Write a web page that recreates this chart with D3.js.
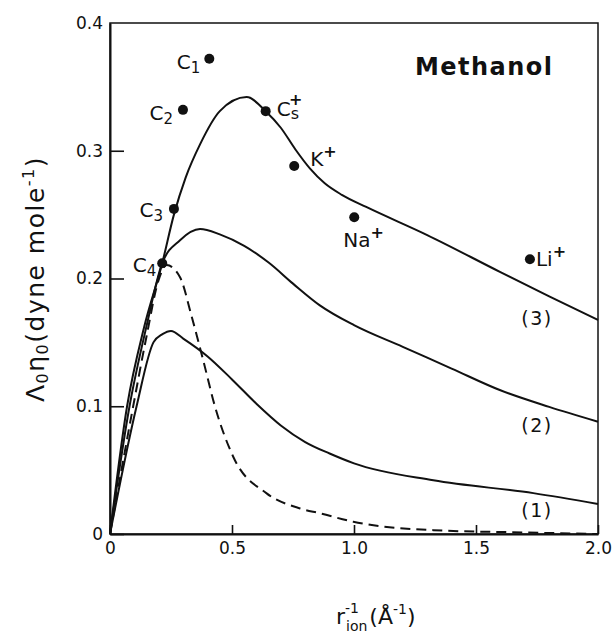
<!DOCTYPE html>
<html>
<head>
<meta charset="utf-8">
<script src="https://cdn.jsdelivr.net/npm/d3@7"></script>
<style>
  body { margin: 0; background: #fff; }
  svg { font-family: "DejaVu Sans", sans-serif; }
</style>
</head>
<body>
<svg id="fig" width="612" height="637"></svg>
<script>
// curves, [r^-1, value]
const curve3 = [[0,0],[0.07,0.1],[0.14,0.162],[0.214,0.212],[0.262,0.25],[0.31,0.279],[0.369,0.305],[0.45,0.331],[0.56,0.342],[0.638,0.331],[0.70,0.318],[0.76,0.301],[0.82,0.286],[0.88,0.2745],[0.95,0.2655],[1.05,0.256],[1.3,0.234],[1.6,0.205],[1.8,0.186],[2.0,0.1675]];
const curve2 = [[0,0],[0.08,0.1],[0.15,0.163],[0.214,0.212],[0.287,0.23],[0.369,0.2387],[0.45,0.2345],[0.55,0.2255],[0.65,0.2125],[0.75,0.196],[0.86,0.179],[1.0,0.1635],[1.2,0.1465],[1.4,0.1295],[1.6,0.1125],[1.8,0.0995],[2.0,0.0879]];
const curve1 = [[0,0],[0.109,0.1],[0.178,0.15],[0.215,0.1565],[0.25,0.159],[0.30,0.153],[0.40,0.139],[0.50,0.121],[0.60,0.102],[0.70,0.085],[0.80,0.072],[0.90,0.063],[1.0,0.0553],[1.325,0.042],[1.735,0.032],[2.0,0.0235]];
const dashed = [[0,0],[0.095,0.1],[0.15,0.155],[0.198,0.198],[0.232,0.2105],[0.287,0.201],[0.335,0.17],[0.382,0.136],[0.43,0.1],[0.505,0.0605],[0.642,0.0318],[0.779,0.02],[0.861,0.0162],[0.997,0.0096],[1.325,0.003],[1.7,0.0012],[2.0,0]];

const ionNames = ["C1","C2","C3","C4","Cs+","K+","Na+","Li+"];
const ionX = [0.407,0.299,0.262,0.214,0.638,0.755,1.001,1.721];
const ionY = [0.372,0.332,0.2545,0.212,0.331,0.288,0.248,0.215];

const curveNames = ["(3)","(2)","(1)"];
const xTicks = [0,0.5,1.0,1.5,2.0];
const yTicks = [0,0.1,0.2,0.3,0.4];

const svg = d3.select("#fig");
const margin = {left:110, top:23, right:14, bottom:103};
const W = 612 - margin.left - margin.right;
const H = 637 - margin.top - margin.bottom;

const x = d3.scaleLinear().domain([0,2]).range([0,W]);
const y = d3.scaleLinear().domain([0,0.4]).range([H,0]);

const g = svg.append("g").attr("transform", `translate(${margin.left},${margin.top})`);

// frame (top + right)
g.append("rect")
  .attr("x", x(0)).attr("y", y(0.4))
  .attr("width", x(2)-x(0)).attr("height", y(0)-y(0.4))
  .attr("fill","none").attr("stroke","#111").attr("stroke-width",1.5);

// axes, ticks point inward
const yAxis = d3.axisLeft(y).tickValues(yTicks).tickSizeInner(-14).tickSizeOuter(0).tickPadding(7)
  .tickFormat(d => d === 0 ? "0" : d3.format(".1f")(d));
const xAxis = d3.axisBottom(x).tickValues(xTicks).tickSizeInner(-9).tickSizeOuter(0).tickPadding(8)
  .tickFormat(d => d === 0 ? "0" : d3.format(".1f")(d));

const ya = g.append("g").call(yAxis);
const xa = g.append("g").attr("transform",`translate(0,${H})`).call(xAxis);
[ya, xa].forEach(a => {
  a.select(".domain").attr("stroke","#111").attr("stroke-width",2);
  a.selectAll(".tick line").attr("stroke","#111").attr("stroke-width",1.6);
  a.selectAll("text").attr("font-size",17).attr("fill","#111").attr("font-family","DejaVu Sans");
});
ya.selectAll(".tick").filter(d => d === 0.4).select("line").remove();

// curves
const line = d3.line().x(d => x(d[0])).y(d => y(d[1])).curve(d3.curveMonotoneX);
[curve3, curve2, curve1].forEach(c => {
  g.append("path").datum(c).attr("d", line)
    .attr("fill","none").attr("stroke","#111").attr("stroke-width",2);
});
g.append("path").datum(dashed).attr("d", line)
  .attr("fill","none").attr("stroke","#111").attr("stroke-width",2)
  .attr("stroke-dasharray","10,6");

// data points
g.selectAll("circle.ion").data(ionNames).join("circle")
  .attr("class","ion")
  .attr("cx",(d,i) => x(ionX[i])).attr("cy",(d,i) => y(ionY[i]))
  .attr("r",5).attr("fill","#111");

// labels: [dx, dy, anchor] relative to the dot
const labelOff = {
  "C1":[-9,10,"end"], "C2":[-10,10,"end"], "C3":[-11,8,"end"], "C4":[-6,9,"end"],
  "Cs+":[11,5,"start"], "K+":[16,0,"start"], "Na+":[-11,30,"start"], "Li+":[6,7,"start"]
};
ionNames.forEach((name,i) => {
  const [dx,dy,anchor] = labelOff[name];
  const t = g.append("text")
    .attr("x", x(ionX[i])+dx).attr("y", y(ionY[i])+dy)
    .attr("text-anchor", anchor).attr("font-size",20).attr("fill","#111");
  if (name[0] === "C" && name !== "Cs+") {
    t.append("tspan").text("C");
    t.append("tspan").text(name.slice(1)).attr("font-size",15).attr("dy",4);
  } else if (name === "Cs+") {
    t.append("tspan").text("C");
    t.append("tspan").text("s").attr("font-size",16).attr("dy",3);
    t.append("tspan").text("+").attr("font-size",16).attr("dx",-10).attr("dy",-14).attr("font-weight","bold");
  } else {
    t.append("tspan").text(name.slice(0,-1));
    t.append("tspan").text("+").attr("font-size",16).attr("dy",-9).attr("font-weight","bold");
  }
});

// curve numbers
const curveLabelY = [0.169, 0.0853, 0.0188];
curveNames.forEach((n,i) => {
  g.append("text").attr("x", x(1.75)).attr("y", y(curveLabelY[i])+7)
    .attr("text-anchor","middle").attr("font-size",19)
    .attr("letter-spacing",1.5).attr("fill","#111").text(n);
});

// solvent name
g.append("text").attr("x", x(1.25)).attr("y", y(0.4)+52)
  .attr("font-size",24).attr("font-weight","bold").attr("fill","#111")
  .attr("textLength",137).attr("lengthAdjust","spacing").text("Methanol");

// y title
const yt = svg.append("text")
  .attr("transform","translate(44,279) rotate(-90)")
  .attr("text-anchor","middle").attr("font-size",25).attr("letter-spacing",1.5).attr("fill","#111");
yt.append("tspan").text("Λ");
yt.append("tspan").text("0").attr("font-size",16).attr("dy",4);
yt.append("tspan").text("η").attr("dy",-4);
yt.append("tspan").text("0").attr("font-size",16).attr("dy",4);
yt.append("tspan").text("(dyne mole").attr("dy",-4);
yt.append("tspan").text("-1").attr("font-size",16).attr("dy",-10);
yt.append("tspan").text(")").attr("dy",10);

// x title
const xt = svg.append("text").attr("x",336).attr("y",624)
  .attr("font-size",22).attr("fill","#111");
xt.append("tspan").text("r");
xt.append("tspan").text("-1").attr("font-size",14).attr("dx",0).attr("dy",-11);
xt.append("tspan").text("ion").attr("font-size",14).attr("dx",-13).attr("dy",18);
xt.append("tspan").text("(Å").attr("dx",2).attr("dy",-7);
xt.append("tspan").text("-1").attr("font-size",14).attr("dy",-10);
xt.append("tspan").text(")").attr("dy",10);
</script>
</body>
</html>
